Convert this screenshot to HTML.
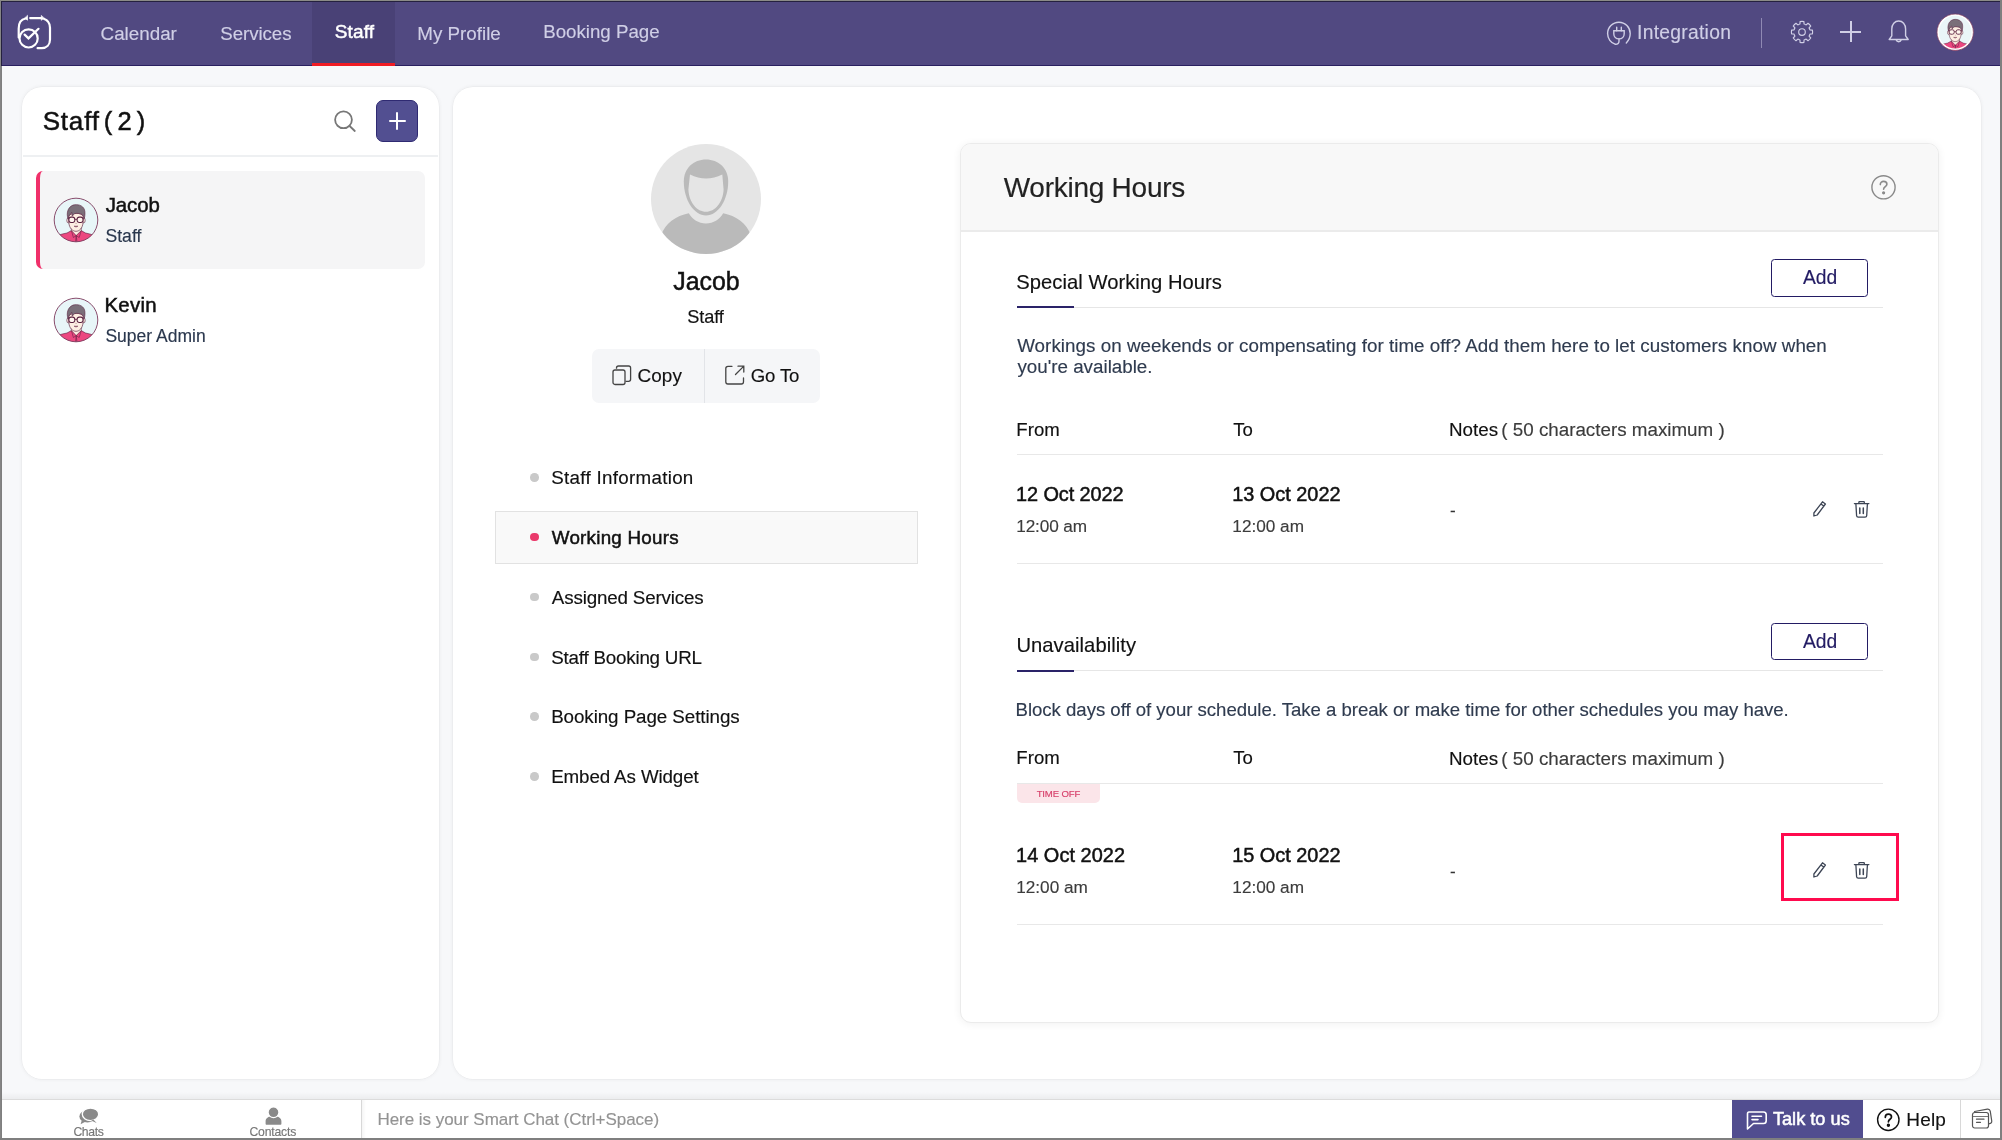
<!DOCTYPE html>
<html><head><meta charset="utf-8"><title>Staff - Working Hours</title>
<style>
*{box-sizing:border-box;margin:0;padding:0}
html,body{width:2002px;height:1140px;overflow:hidden;background:#f7f8fa;font-family:"Liberation Sans", Arial, sans-serif;}
.a{position:absolute}
.t{position:absolute;white-space:nowrap;line-height:1;font-family:"Liberation Sans", Arial, sans-serif;}
svg{position:absolute;overflow:visible}
</style></head><body>
<!-- header -->
<div class="a" style="left:0;top:0;width:2002px;height:66px;background:#514981"></div>
<div class="a" style="left:312px;top:2px;width:83px;height:61px;background:#494176"></div>
<div class="a" style="left:312px;top:63px;width:83px;height:3px;background:#f01c24"></div>
<div class="a" style="left:0;top:65px;width:312px;height:1px;background:#2a2060"></div>
<div class="a" style="left:395px;top:65px;width:1607px;height:1px;background:#2a2060"></div>
<!-- logo -->
<svg style="left:0;top:0" width="60" height="60" viewBox="0 0 60 60" fill="none" stroke="#fff" stroke-width="2.2" stroke-linecap="round">
  <path d="M25.6 18.5 C21.4 19.2 18.7 23 18.7 28.5 L18.7 37.5"/>
  <path d="M27.5 15.7 L27.5 20.2 L24.9 18.3 Z" fill="#fff" stroke-width="0.7" stroke-linejoin="round"/>
  <path d="M30.2 18.1 L41 18.1"/>
  <path d="M41.3 15.8 L41.3 20.3 L43.9 18.2 Z" fill="#fff" stroke-width="0.7" stroke-linejoin="round"/>
  <path d="M43.8 18.8 C47.8 20.2 50 23.6 50 27.8 L50 39.5 C50 44.8 46.6 48.2 41.8 48.2 L37.6 48.2"/>
  <circle cx="28.6" cy="38.4" r="9.1"/>
  <path d="M24.6 34.6 L28.5 38.4 L38.5 28.8"/>
</svg>
<!-- integration icon -->
<svg style="left:1606px;top:20.7px" width="26" height="26" viewBox="0 0 26 26" fill="none" stroke="#d0cfe6" stroke-width="1.4" stroke-linecap="round">
  <path d="M9.5 23.4 C4.8 22 1.6 17.6 1.6 12.6 A11.3 11.3 0 0 1 24.2 12.6 C24.2 16.2 22.8 19.5 20.3 21.9"/>
  <path d="M7.8 9.8 L18.2 9.8 L18.2 12.8 C18.2 15.8 16 17.9 13 17.9 C10 17.9 7.8 15.8 7.8 12.8 Z"/>
  <path d="M10.7 9.8 L10.7 6.2 M15.3 9.8 L15.3 6.2 M13 17.9 L13 20.2 C13 22 11.5 23.2 9.5 23.4"/>
</svg>
<div class="a" style="left:1761px;top:18px;width:1px;height:30px;background:rgba(220,216,240,0.45)"></div>
<!-- gear -->
<svg style="left:1789.5px;top:20.2px" width="24" height="24" viewBox="0 0 24 24" fill="none" stroke="#d0cfe6" stroke-width="1.15" stroke-linejoin="round">
  <path d="M9.95 4.06 L10.07 1.58 A10.6 10.6 0 0 1 13.93 1.58 L14.05 4.06 A8.2 8.2 0 0 1 16.16 4.93 L18.00 3.26 A10.6 10.6 0 0 1 20.74 6.00 L19.07 7.84 A8.2 8.2 0 0 1 19.94 9.95 L22.42 10.07 A10.6 10.6 0 0 1 22.42 13.93 L19.94 14.05 A8.2 8.2 0 0 1 19.07 16.16 L20.74 18.00 A10.6 10.6 0 0 1 18.00 20.74 L16.16 19.07 A8.2 8.2 0 0 1 14.05 19.94 L13.93 22.42 A10.6 10.6 0 0 1 10.07 22.42 L9.95 19.94 A8.2 8.2 0 0 1 7.84 19.07 L6.00 20.74 A10.6 10.6 0 0 1 3.26 18.00 L4.93 16.16 A8.2 8.2 0 0 1 4.06 14.05 L1.58 13.93 A10.6 10.6 0 0 1 1.58 10.07 L4.06 9.95 A8.2 8.2 0 0 1 4.93 7.84 L3.26 6.00 A10.6 10.6 0 0 1 6.00 3.26 L7.84 4.93 A8.2 8.2 0 0 1 9.95 4.06 Z"/>
  <circle cx="12" cy="12" r="3.3"/>
</svg>
<!-- plus -->
<div class="a" style="left:1849.5px;top:21px;width:2px;height:21px;background:#d0cfe6"></div>
<div class="a" style="left:1840px;top:30.5px;width:21px;height:2px;background:#d0cfe6"></div>
<!-- bell -->
<svg style="left:1887px;top:19px" width="24" height="26" viewBox="0 0 24 26" fill="none" stroke="#d0cfe6" stroke-width="1.4" stroke-linejoin="round">
  <path d="M2.2 20.5 L4.8 16.8 L4.8 10 C4.8 5.2 7.8 2 11.7 2 C15.6 2 18.6 5.2 18.6 10 L18.6 16.8 L21.2 20.5 Z"/>
  <path d="M9.2 20.8 A2.6 2.6 0 0 0 14.2 20.8"/>
</svg>
<!-- header avatar -->
<svg style="left:1935.80px;top:13.00px" width="38.41" height="38.41" viewBox="-23 -23 46 46">
  <defs><clipPath id="cha"><circle cx="0" cy="0" r="21.8"/></clipPath></defs>
  <circle cx="0" cy="0" r="21.8" fill="#eaf6f8"/>
  <g clip-path="url(#cha)" stroke="#5a2140" stroke-linejoin="round">
    <path d="M-24 24 L-24 18 C-20 15.6 -15 14.2 -9 13 L-4.6 10.6 L5.2 10.6 L9.5 13 C15 14.2 20 15.6 24 18 L24 24 Z" fill="#ec4880" stroke-width="0.6"/>
    <path d="M-4.6 7 L-4.6 10.6 L0.2 15.6 L5.2 10.6 L5.2 7 Z" fill="#fdeee2" stroke-width="0.6"/>
    <path d="M-4.6 10.6 L-2.6 17.5 L0.2 15.6 M5.2 10.6 L3.2 17.5 L0.2 15.6 M0.2 15.6 L-0.6 24 M0.2 15.6 L1.2 24" fill="none" stroke-width="0.55"/>
    <ellipse cx="-7.7" cy="0.4" rx="1.5" ry="2.5" fill="#fdeee2" stroke-width="0.6"/>
    <ellipse cx="7.7" cy="0.4" rx="1.5" ry="2.5" fill="#fdeee2" stroke-width="0.6"/>
    <path d="M-7.3 -3 C-7.4 -8 7.2 -8 7.1 -3 L7 3 C6.5 8 3.5 11.3 0 11.3 C-3.5 11.3 -6.7 8 -7.1 3 Z" fill="#fdeee2" stroke-width="0.65"/>
    <path d="M-8.1 -1.5 C-9.6 -6.5 -8.6 -12.6 -3 -14.9 C1.5 -16.2 6.5 -14.8 8.3 -10.8 C9.4 -8 9 -4.3 8.3 -1.5 L7.1 -4.8 C4.8 -6.6 1.6 -7 -1.4 -6.4 L-3.8 -3.8 L-4.3 -7.6 L-6.8 -4.4 Z" fill="#7a6f79" stroke-width="0.6"/>
    <rect x="-7.1" y="-2.9" width="5.9" height="5.3" rx="2.1" fill="#fff7ee" stroke-width="1.05"/>
    <rect x="1.1" y="-2.9" width="5.9" height="5.3" rx="2.1" fill="#fff7ee" stroke-width="1.05"/>
    <path d="M-1.3 -0.6 L1.1 -0.6 M-7.1 -0.8 L-7.9 -1.2 M6.9 -0.8 L7.7 -1.2" stroke-width="0.8" fill="none"/>
    <path d="M-0.4 3.4 Q0 4 0.5 3.4" fill="none" stroke-width="0.5"/>
    <path d="M-1.9 6.2 Q0 7.8 1.9 6.2 Z" fill="#e9a0a8" stroke-width="0.5"/>
  </g>
  <circle cx="0" cy="0" r="20.6" fill="none" stroke="#fff" stroke-width="2"/><circle cx="0" cy="0" r="21.8" fill="none" stroke="#7d3a5c" stroke-width="0.9"/>
</svg>
<!-- frame -->
<div class="a" style="left:0;top:0;width:2002px;height:1px;background:#8b8b87"></div>
<div class="a" style="left:1px;top:1px;width:1999px;height:1px;background:#25213f"></div>
<div class="a" style="left:0;top:0;width:1px;height:1140px;background:#858585"></div>
<div class="a" style="left:1px;top:1px;width:1px;height:65px;background:#25213f"></div>
<div class="a" style="left:1px;top:66px;width:1px;height:1074px;background:#7f7f7f"></div>
<div class="a" style="left:2000px;top:0;width:2px;height:1140px;background:#7f7f7f"></div>
<div class="a" style="left:0;top:1138px;width:2002px;height:2px;background:#7f7f7f"></div>

<!-- left panel -->
<div class="a" style="left:22px;top:87px;width:417px;height:992px;background:#fff;border-radius:20px;box-shadow:0 0 0 0.5px rgba(0,0,0,0.03),0 0 4px rgba(0,0,0,0.07)"></div>
<div class="a" style="left:23px;top:155px;width:415px;height:2px;background:#eef0f2"></div>
<svg style="left:333px;top:109px" width="24" height="24" viewBox="0 0 24 24" fill="none" stroke="#777" stroke-width="1.8" stroke-linecap="round">
  <circle cx="10.5" cy="10.8" r="8.4"/><path d="M16.6 17 L21.8 22"/>
</svg>
<div class="a" style="left:376px;top:100px;width:42px;height:42px;background:#524f91;border:1.5px solid #2f2a72;border-radius:7px"></div>
<div class="a" style="left:395.7px;top:112px;width:2.6px;height:18px;background:#fff;border-radius:1px"></div>
<div class="a" style="left:388.5px;top:119.7px;width:17px;height:2.6px;background:#fff;border-radius:1px"></div>
<div class="a" style="left:36px;top:171px;width:389px;height:98px;background:#f5f5f6;border-radius:7px;border-left:4.5px solid #f0306a"></div>
<!-- avatars small -->
<svg style="left:53.10px;top:197.10px" width="46.00" height="46.00" viewBox="-23 -23 46 46">
  <defs><clipPath id="ca1"><circle cx="0" cy="0" r="21.8"/></clipPath></defs>
  <circle cx="0" cy="0" r="21.8" fill="#e8f6f8"/>
  <g clip-path="url(#ca1)" stroke="#5a2140" stroke-linejoin="round">
    <path d="M-24 24 L-24 18 C-20 15.6 -15 14.2 -9 13 L-4.6 10.6 L5.2 10.6 L9.5 13 C15 14.2 20 15.6 24 18 L24 24 Z" fill="#ec4880" stroke-width="0.6"/>
    <path d="M-4.6 7 L-4.6 10.6 L0.2 15.6 L5.2 10.6 L5.2 7 Z" fill="#fdeee2" stroke-width="0.6"/>
    <path d="M-4.6 10.6 L-2.6 17.5 L0.2 15.6 M5.2 10.6 L3.2 17.5 L0.2 15.6 M0.2 15.6 L-0.6 24 M0.2 15.6 L1.2 24" fill="none" stroke-width="0.55"/>
    <ellipse cx="-7.7" cy="0.4" rx="1.5" ry="2.5" fill="#fdeee2" stroke-width="0.6"/>
    <ellipse cx="7.7" cy="0.4" rx="1.5" ry="2.5" fill="#fdeee2" stroke-width="0.6"/>
    <path d="M-7.3 -3 C-7.4 -8 7.2 -8 7.1 -3 L7 3 C6.5 8 3.5 11.3 0 11.3 C-3.5 11.3 -6.7 8 -7.1 3 Z" fill="#fdeee2" stroke-width="0.65"/>
    <path d="M-8.1 -1.5 C-9.6 -6.5 -8.6 -12.6 -3 -14.9 C1.5 -16.2 6.5 -14.8 8.3 -10.8 C9.4 -8 9 -4.3 8.3 -1.5 L7.1 -4.8 C4.8 -6.6 1.6 -7 -1.4 -6.4 L-3.8 -3.8 L-4.3 -7.6 L-6.8 -4.4 Z" fill="#7a6f79" stroke-width="0.6"/>
    <rect x="-7.1" y="-2.9" width="5.9" height="5.3" rx="2.1" fill="#fff7ee" stroke-width="1.05"/>
    <rect x="1.1" y="-2.9" width="5.9" height="5.3" rx="2.1" fill="#fff7ee" stroke-width="1.05"/>
    <path d="M-1.3 -0.6 L1.1 -0.6 M-7.1 -0.8 L-7.9 -1.2 M6.9 -0.8 L7.7 -1.2" stroke-width="0.8" fill="none"/>
    <path d="M-0.4 3.4 Q0 4 0.5 3.4" fill="none" stroke-width="0.5"/>
    <path d="M-1.9 6.2 Q0 7.8 1.9 6.2 Z" fill="#e9a0a8" stroke-width="0.5"/>
  </g>
  <circle cx="0" cy="0" r="21.8" fill="none" stroke="#7d3a5c" stroke-width="0.9"/>
</svg>
<svg style="left:53.10px;top:296.80px" width="46.00" height="46.00" viewBox="-23 -23 46 46">
  <defs><clipPath id="ca2"><circle cx="0" cy="0" r="21.8"/></clipPath></defs>
  <circle cx="0" cy="0" r="21.8" fill="#e8f6f8"/>
  <g clip-path="url(#ca2)" stroke="#5a2140" stroke-linejoin="round">
    <path d="M-24 24 L-24 18 C-20 15.6 -15 14.2 -9 13 L-4.6 10.6 L5.2 10.6 L9.5 13 C15 14.2 20 15.6 24 18 L24 24 Z" fill="#ec4880" stroke-width="0.6"/>
    <path d="M-4.6 7 L-4.6 10.6 L0.2 15.6 L5.2 10.6 L5.2 7 Z" fill="#fdeee2" stroke-width="0.6"/>
    <path d="M-4.6 10.6 L-2.6 17.5 L0.2 15.6 M5.2 10.6 L3.2 17.5 L0.2 15.6 M0.2 15.6 L-0.6 24 M0.2 15.6 L1.2 24" fill="none" stroke-width="0.55"/>
    <ellipse cx="-7.7" cy="0.4" rx="1.5" ry="2.5" fill="#fdeee2" stroke-width="0.6"/>
    <ellipse cx="7.7" cy="0.4" rx="1.5" ry="2.5" fill="#fdeee2" stroke-width="0.6"/>
    <path d="M-7.3 -3 C-7.4 -8 7.2 -8 7.1 -3 L7 3 C6.5 8 3.5 11.3 0 11.3 C-3.5 11.3 -6.7 8 -7.1 3 Z" fill="#fdeee2" stroke-width="0.65"/>
    <path d="M-8.1 -1.5 C-9.6 -6.5 -8.6 -12.6 -3 -14.9 C1.5 -16.2 6.5 -14.8 8.3 -10.8 C9.4 -8 9 -4.3 8.3 -1.5 L7.1 -4.8 C4.8 -6.6 1.6 -7 -1.4 -6.4 L-3.8 -3.8 L-4.3 -7.6 L-6.8 -4.4 Z" fill="#7a6f79" stroke-width="0.6"/>
    <rect x="-7.1" y="-2.9" width="5.9" height="5.3" rx="2.1" fill="#fff7ee" stroke-width="1.05"/>
    <rect x="1.1" y="-2.9" width="5.9" height="5.3" rx="2.1" fill="#fff7ee" stroke-width="1.05"/>
    <path d="M-1.3 -0.6 L1.1 -0.6 M-7.1 -0.8 L-7.9 -1.2 M6.9 -0.8 L7.7 -1.2" stroke-width="0.8" fill="none"/>
    <path d="M-0.4 3.4 Q0 4 0.5 3.4" fill="none" stroke-width="0.5"/>
    <path d="M-1.9 6.2 Q0 7.8 1.9 6.2 Z" fill="#e9a0a8" stroke-width="0.5"/>
  </g>
  <circle cx="0" cy="0" r="21.8" fill="none" stroke="#7d3a5c" stroke-width="0.9"/>
</svg>

<!-- main panel -->
<div class="a" style="left:453px;top:87px;width:1528px;height:992px;background:#fff;border-radius:20px;box-shadow:0 0 0 0.5px rgba(0,0,0,0.03),0 0 4px rgba(0,0,0,0.07)"></div>
<!-- big avatar -->
<svg style="left:651px;top:143.5px" width="110" height="110" viewBox="0 0 110 110">
  <defs><clipPath id="cd"><circle cx="55" cy="55" r="55"/></clipPath></defs>
  <circle cx="55" cy="55" r="55" fill="#e5e5e5"/>
  <g clip-path="url(#cd)" fill="#bababa">
    <path d="M10 110 L10 92 C14 79 25 72 37.8 69.3 C41.5 75.8 47.5 79.4 55 79.4 C62.5 79.4 68.5 75.8 72.2 69.3 C85 72 96 79 100 92 L100 110 Z"/>
    <path d="M55 15.6 C67.5 15.6 77.2 24.5 77.2 37.5 C77.2 56 67 71.5 55 71.5 C43 71.5 32.8 56 32.8 37.5 C32.8 24.5 42.5 15.6 55 15.6 Z"/>
    <path d="M39 30.4 Q55 38.5 71.3 30.4 L72.6 45.5 C72 58.5 64 67.8 55 67.8 C46 67.8 38 58.5 37.4 45.5 Z" fill="#e5e5e5"/>
  </g>
</svg>
<!-- copy/goto -->
<div class="a" style="left:592px;top:348.5px;width:228px;height:54px;background:#f5f6f8;border-radius:7px"></div>
<div class="a" style="left:703.5px;top:348.5px;width:1px;height:54px;background:#e2e4e8"></div>
<svg style="left:611px;top:364px" width="22" height="22" viewBox="0 0 22 22" fill="none" stroke="#444" stroke-width="1.3">
  <rect x="2" y="6" width="12" height="14.5" rx="2"/>
  <path d="M5.5 4.8 L5.5 4 C5.5 2.8 6.3 2 7.5 2 L17.6 2 C18.8 2 19.6 2.8 19.6 4 L19.6 15.3 C19.6 16.5 18.8 17.3 17.6 17.3 L14.5 17.3"/>
</svg>
<svg style="left:724px;top:364px" width="22" height="22" viewBox="0 0 22 22" fill="none" stroke="#444" stroke-width="1.3" stroke-linecap="round">
  <path d="M8 2.3 L4 2.3 C2.6 2.3 1.8 3.1 1.8 4.5 L1.8 17.8 C1.8 19.2 2.6 20 4 20 L17.3 20 C18.7 20 19.5 19.2 19.5 17.8 L19.5 14"/>
  <path d="M11.5 10.5 L19.6 2.4 M14 2.2 L19.8 2.2 L19.8 8"/>
</svg>
<!-- nav list -->
<div class="a" style="left:494.5px;top:511px;width:423.5px;height:52.5px;background:#f9f9f9;border:1.3px solid #e2e2e2"></div>
<div class="a" style="left:530.2px;top:473.3px;width:8.6px;height:8.6px;border-radius:50%;background:#c9c9c9"></div>
<div class="a" style="left:530.2px;top:532.9px;width:8.6px;height:8.6px;border-radius:50%;background:#ea3a6b"></div>
<div class="a" style="left:530.2px;top:592.7px;width:8.6px;height:8.6px;border-radius:50%;background:#c9c9c9"></div>
<div class="a" style="left:530.2px;top:652.5px;width:8.6px;height:8.6px;border-radius:50%;background:#c9c9c9"></div>
<div class="a" style="left:530.2px;top:712.3px;width:8.6px;height:8.6px;border-radius:50%;background:#c9c9c9"></div>
<div class="a" style="left:530.2px;top:772.1px;width:8.6px;height:8.6px;border-radius:50%;background:#c9c9c9"></div>

<!-- card -->
<div class="a" style="left:960px;top:143px;width:979px;height:880px;background:#fff;border:1px solid #ebebeb;border-radius:11px;overflow:hidden;box-shadow:0 1px 8px rgba(0,0,0,0.06)">
  <div class="a" style="left:0;top:0;width:977px;height:88px;background:#f8f8f8;border-bottom:2px solid #ebebeb"></div>
</div>
<svg style="left:1871px;top:175px" width="25" height="25" viewBox="0 0 25 25" fill="none" stroke="#8a8a8a" stroke-width="1.4" stroke-linecap="round">
  <circle cx="12.5" cy="12.3" r="11.6"/>
  <path d="M9.3 9.6 C9.3 7.6 10.7 6.4 12.6 6.4 C14.5 6.4 15.9 7.6 15.9 9.3 C15.9 11.6 12.6 11.8 12.6 14.3" stroke-width="1.6"/>
  <circle cx="12.6" cy="17.8" r="0.9" fill="#8a8a8a"/>
</svg>
<!-- section 1 -->
<div class="a" style="left:1016.8px;top:306.5px;width:866px;height:1px;background:#e6e6e6"></div>
<div class="a" style="left:1016.6px;top:306.4px;width:57.4px;height:2px;background:#2a2368"></div>
<div class="a" style="left:1771px;top:259.3px;width:97px;height:37.5px;border:1.6px solid #231c64;border-radius:3.5px;background:#fff"></div>
<div class="a" style="left:1016.8px;top:454px;width:866px;height:1px;background:#e8e8e8"></div>
<div class="a" style="left:1016.8px;top:563px;width:866px;height:1px;background:#e8e8e8"></div>
<!-- section 2 -->
<div class="a" style="left:1016.8px;top:670.2px;width:866px;height:1px;background:#e6e6e6"></div>
<div class="a" style="left:1016.6px;top:670.2px;width:57.4px;height:2px;background:#2a2368"></div>
<div class="a" style="left:1771px;top:622.8px;width:97px;height:37.5px;border:1.6px solid #231c64;border-radius:3.5px;background:#fff"></div>
<div class="a" style="left:1016.8px;top:783px;width:866px;height:1px;background:#e8e8e8"></div>
<div class="a" style="left:1017px;top:784px;width:83px;height:19px;background:#fbe5e9;border-radius:0 0 5px 5px"></div>
<div class="a" style="left:1016.8px;top:924.2px;width:866px;height:1px;background:#e8e8e8"></div>
<div class="a" style="left:1780.8px;top:833.2px;width:118.6px;height:67.7px;border:3.3px solid #ff0a4e"></div>
<!-- edit/delete icons -->
<svg style="left:1810px;top:499px" width="20" height="20" viewBox="0 0 20 20" fill="none" stroke="#3d4555" stroke-width="1.3" stroke-linejoin="round">
  <path d="M3.9 17.0 L3.9 14.0 L12.5 2.8 L15.4 5.0 L7.2 16.0 Z M10.9 4.9 L13.8 7.1"/>
</svg>
<svg style="left:1852px;top:499px" width="20" height="20" viewBox="0 0 20 20" fill="none" stroke="#3d4555" stroke-width="1.3" stroke-linecap="round" stroke-linejoin="round">
  <path d="M2.4 4.6 L16.9 4.6 M6.9 4.3 L6.9 3.1 C6.9 2.8 7.1 2.6 7.5 2.6 L11.7 2.6 C12.1 2.6 12.3 2.8 12.3 3.1 L12.3 4.3"/>
  <path d="M3.9 5 L4.6 16.8 C4.7 17.8 5.2 18.2 6.2 18.2 L13.1 18.2 C14.1 18.2 14.6 17.8 14.7 16.8 L15.4 5"/>
  <path d="M7.8 9.1 L7.8 14.5 M11.3 9.1 L11.3 14.5" stroke-width="1.5"/>
</svg>
<svg style="left:1810px;top:859.5px" width="20" height="20" viewBox="0 0 20 20" fill="none" stroke="#3d4555" stroke-width="1.3" stroke-linejoin="round">
  <path d="M3.9 17.0 L3.9 14.0 L12.5 2.8 L15.4 5.0 L7.2 16.0 Z M10.9 4.9 L13.8 7.1"/>
</svg>
<svg style="left:1852px;top:859.5px" width="20" height="20" viewBox="0 0 20 20" fill="none" stroke="#3d4555" stroke-width="1.3" stroke-linecap="round" stroke-linejoin="round">
  <path d="M2.4 4.6 L16.9 4.6 M6.9 4.3 L6.9 3.1 C6.9 2.8 7.1 2.6 7.5 2.6 L11.7 2.6 C12.1 2.6 12.3 2.8 12.3 3.1 L12.3 4.3"/>
  <path d="M3.9 5 L4.6 16.8 C4.7 17.8 5.2 18.2 6.2 18.2 L13.1 18.2 C14.1 18.2 14.6 17.8 14.7 16.8 L15.4 5"/>
  <path d="M7.8 9.1 L7.8 14.5 M11.3 9.1 L11.3 14.5" stroke-width="1.5"/>
</svg>

<!-- bottom bar -->
<div class="a" style="left:2px;top:1092px;width:1998px;height:8px;background:linear-gradient(to bottom,rgba(0,0,0,0),rgba(0,0,0,0.05))"></div>
<div class="a" style="left:2px;top:1099px;width:1998px;height:1px;background:#dcdcdc"></div>
<div class="a" style="left:2px;top:1100px;width:1998px;height:38px;background:#fff"></div>
<div class="a" style="left:361px;top:1100px;width:1px;height:38px;background:#d8d8d8"></div>
<div class="a" style="left:362px;top:1100px;width:4px;height:38px;background:linear-gradient(to right,rgba(0,0,0,0.04),rgba(0,0,0,0))"></div>
<svg style="left:60px;top:1100px" width="240" height="40" viewBox="60 1100 240 40">
  <ellipse cx="87.4" cy="1116.4" rx="8" ry="6.1" fill="#8a8a8a"/>
  <path d="M82 1119.5 L80.6 1124.2 L86.2 1121.2 Z" fill="#8a8a8a"/>
  <ellipse cx="90.5" cy="1114.3" rx="8.2" ry="6.3" fill="#8a8a8a" stroke="#fff" stroke-width="1.3"/>
  <path d="M93.6 1119.8 L96.6 1123 L91 1120.6 Z" fill="#8a8a8a"/>
  <path d="M265.6 1124.8 L265.6 1121.2 C265.6 1118 268.8 1116 273.5 1116 C278.2 1116 281.4 1118 281.4 1121.2 L281.4 1123.8 C281.4 1124.5 281 1124.8 280.3 1124.8 L266.6 1124.8 C266 1124.8 265.6 1124.5 265.6 1123.8 Z" fill="#8a8a8a"/>
  <circle cx="273.5" cy="1112.3" r="5.4" fill="#8a8a8a" stroke="#fff" stroke-width="1.2"/>
</svg>
<div class="a" style="left:1732px;top:1100px;width:131px;height:38px;background:#514d8f"></div>
<svg style="left:1745px;top:1110px" width="23" height="21" viewBox="0 0 23 21" fill="none" stroke="#fff" stroke-width="1.6" stroke-linejoin="round" stroke-linecap="round">
  <path d="M4 2 L18.5 2 C20.3 2 21.2 2.9 21.2 4.7 L21.2 10.8 C21.2 12.6 20.3 13.5 18.5 13.5 L8.5 13.5 L2.5 19 L2.5 4 C2.5 2.8 3 2 4 2 Z"/>
  <path d="M7 6.3 L16.5 6.3 M7 9.6 L13 9.6"/>
</svg>
<svg style="left:1876px;top:1108px" width="24" height="24" viewBox="0 0 24 24" fill="none" stroke="#111" stroke-width="1.4" stroke-linecap="round">
  <circle cx="12.3" cy="11.8" r="10.7"/>
  <path d="M9.3 9.3 C9.3 7.3 10.6 6.2 12.4 6.2 C14.2 6.2 15.5 7.3 15.5 9 C15.5 11.2 12.4 11.4 12.4 13.8" stroke-width="1.7"/>
  <circle cx="12.4" cy="17.2" r="1" fill="#111"/>
</svg>
<div class="a" style="left:1960px;top:1100px;width:1px;height:38px;background:#d8d8d8"></div>
<svg style="left:1970px;top:1108px" width="24" height="22" viewBox="0 0 24 22" fill="#fff" stroke="#555" stroke-width="1.2" stroke-linejoin="round">
  <path d="M5 3 L18 1.5 C19.5 1.4 20.5 2.3 20.7 3.8 L21.5 13.5 C21.6 15 20.8 16 19.3 16.1 L7 17 Z" transform="rotate(-4 12 10)"/>
  <rect x="2.5" y="4.5" width="16" height="15.5" rx="2.2"/>
  <path d="M6.5 11.2 L14 11.2 M6.5 14.3 L10.5 14.3" stroke-linecap="round"/>
  <path d="M2.5 8.5 L18.5 8.5" stroke-width="0.8"/>
</svg>
<div class="a" style="left:0;top:0;width:2002px;height:1140px;will-change:transform">
<div class="t" style="left:100.62px;top:25.00px;font-size:18.80px;color:#d0cfe6;-webkit-text-stroke:0.15px currentColor;">Calendar</div>
<div class="t" style="left:220.22px;top:25.01px;font-size:18.70px;color:#d0cfe6;letter-spacing:-0.048px;-webkit-text-stroke:0.15px currentColor;">Services</div>
<div class="t" style="left:334.81px;top:22.00px;font-size:19.00px;color:#ffffff;letter-spacing:0.149px;-webkit-text-stroke:0.5px currentColor;">Staff</div>
<div class="t" style="left:417.33px;top:25.00px;font-size:18.80px;color:#d0cfe6;-webkit-text-stroke:0.15px currentColor;">My Profile</div>
<div class="t" style="left:543.24px;top:23.00px;font-size:18.70px;color:#d0cfe6;-webkit-text-stroke:0.15px currentColor;">Booking Page</div>
<div class="t" style="left:1637.09px;top:23.01px;font-size:19.30px;color:#d0cfe6;letter-spacing:0.269px;-webkit-text-stroke:0.15px currentColor;">Integration</div>
<div class="t" style="left:42.69px;top:108.01px;font-size:26.00px;color:#111;letter-spacing:0.805px;-webkit-text-stroke:0.5px currentColor;">Staff</div>
<div class="t" style="left:103.80px;top:109.01px;font-size:25.50px;color:#111;letter-spacing:-0.955px;-webkit-text-stroke:0.5px currentColor;">( 2 )</div>
<div class="t" style="left:105.68px;top:195.01px;font-size:20.40px;color:#111;letter-spacing:-0.073px;-webkit-text-stroke:0.5px currentColor;">Jacob</div>
<div class="t" style="left:105.45px;top:228.01px;font-size:17.60px;color:#2a374d;letter-spacing:0.028px;-webkit-text-stroke:0.15px currentColor;">Staff</div>
<div class="t" style="left:104.41px;top:295.01px;font-size:20.40px;color:#111;letter-spacing:0.302px;-webkit-text-stroke:0.5px currentColor;">Kevin</div>
<div class="t" style="left:105.45px;top:328.00px;font-size:17.50px;color:#2a374d;-webkit-text-stroke:0.15px currentColor;">Super Admin</div>
<div class="t" style="left:673.31px;top:269.00px;font-size:24.90px;color:#111;-webkit-text-stroke:0.5px currentColor;">Jacob</div>
<div class="t" style="left:687.23px;top:308.02px;font-size:18.20px;color:#111;letter-spacing:-0.124px;-webkit-text-stroke:0.15px currentColor;">Staff</div>
<div class="t" style="left:637.41px;top:367.00px;font-size:18.90px;color:#111;letter-spacing:0.121px;-webkit-text-stroke:0.15px currentColor;">Copy</div>
<div class="t" style="left:750.73px;top:367.01px;font-size:18.60px;color:#111;letter-spacing:-0.150px;-webkit-text-stroke:0.15px currentColor;">Go To</div>
<div class="t" style="left:551.21px;top:469.01px;font-size:18.80px;color:#111;letter-spacing:0.291px;-webkit-text-stroke:0.15px currentColor;">Staff Information</div>
<div class="t" style="left:551.80px;top:529.00px;font-size:18.80px;color:#111;letter-spacing:0.242px;-webkit-text-stroke:0.5px currentColor;">Working Hours</div>
<div class="t" style="left:551.80px;top:589.00px;font-size:18.80px;color:#111;letter-spacing:-0.160px;-webkit-text-stroke:0.15px currentColor;">Assigned Services</div>
<div class="t" style="left:551.21px;top:649.00px;font-size:18.80px;color:#111;letter-spacing:-0.210px;-webkit-text-stroke:0.15px currentColor;">Staff Booking URL</div>
<div class="t" style="left:551.13px;top:708.01px;font-size:18.80px;color:#111;letter-spacing:-0.073px;-webkit-text-stroke:0.15px currentColor;">Booking Page Settings</div>
<div class="t" style="left:551.13px;top:768.01px;font-size:18.80px;color:#111;letter-spacing:-0.119px;-webkit-text-stroke:0.15px currentColor;">Embed As Widget</div>
<div class="t" style="left:1003.70px;top:174.00px;font-size:28.00px;color:#222;letter-spacing:-0.256px;-webkit-text-stroke:0.15px currentColor;">Working Hours</div>
<div class="t" style="left:1016.37px;top:272.00px;font-size:20.20px;color:#111;letter-spacing:0.029px;-webkit-text-stroke:0.15px currentColor;">Special Working Hours</div>
<div class="t" style="left:1803.00px;top:268.01px;font-size:19.30px;color:#231c64;letter-spacing:-0.028px;-webkit-text-stroke:0.15px currentColor;">Add</div>
<div class="t" style="left:1017.20px;top:337.01px;font-size:18.80px;color:#2f3b4f;letter-spacing:0.037px;-webkit-text-stroke:0.15px currentColor;">Workings on weekends or compensating for time off? Add them here to let customers know when</div>
<div class="t" style="left:1017.40px;top:358.00px;font-size:18.80px;color:#2f3b4f;-webkit-text-stroke:0.15px currentColor;">you're available.</div>
<div class="t" style="left:1016.35px;top:421.00px;font-size:18.60px;color:#111;-webkit-text-stroke:0.15px currentColor;">From</div>
<div class="t" style="left:1233.21px;top:421.00px;font-size:18.60px;color:#111;-webkit-text-stroke:0.15px currentColor;">To</div>
<div class="t" style="left:1449.03px;top:421.01px;font-size:18.80px;color:#111;letter-spacing:0.036px;-webkit-text-stroke:0.15px currentColor;">Notes</div>
<div class="t" style="left:1501.32px;top:421.01px;font-size:18.80px;color:#3c3c3c;-webkit-text-stroke:0.15px currentColor;">( 50 characters maximum )</div>
<div class="t" style="left:1016.35px;top:749.00px;font-size:18.60px;color:#111;-webkit-text-stroke:0.15px currentColor;">From</div>
<div class="t" style="left:1233.21px;top:749.00px;font-size:18.60px;color:#111;-webkit-text-stroke:0.15px currentColor;">To</div>
<div class="t" style="left:1449.03px;top:750.00px;font-size:18.80px;color:#111;letter-spacing:0.036px;-webkit-text-stroke:0.15px currentColor;">Notes</div>
<div class="t" style="left:1501.32px;top:750.00px;font-size:18.80px;color:#3c3c3c;-webkit-text-stroke:0.15px currentColor;">( 50 characters maximum )</div>
<div class="t" style="left:1016.06px;top:485.01px;font-size:19.90px;color:#111;letter-spacing:-0.087px;-webkit-text-stroke:0.5px currentColor;">12 Oct 2022</div>
<div class="t" style="left:1016.22px;top:518.01px;font-size:17.20px;color:#3c3c3c;letter-spacing:-0.107px;-webkit-text-stroke:0.15px currentColor;">12:00 am</div>
<div class="t" style="left:1232.16px;top:485.01px;font-size:19.90px;color:#111;-webkit-text-stroke:0.5px currentColor;">13 Oct 2022</div>
<div class="t" style="left:1232.33px;top:518.01px;font-size:17.20px;color:#3c3c3c;-webkit-text-stroke:0.15px currentColor;">12:00 am</div>
<div class="t" style="left:1449.97px;top:502.00px;font-size:17.00px;color:#333;-webkit-text-stroke:0.15px currentColor;">-</div>
<div class="t" style="left:1016.44px;top:635.01px;font-size:20.20px;color:#111;letter-spacing:0.050px;-webkit-text-stroke:0.15px currentColor;">Unavailability</div>
<div class="t" style="left:1803.00px;top:632.01px;font-size:19.30px;color:#231c64;letter-spacing:-0.028px;-webkit-text-stroke:0.15px currentColor;">Add</div>
<div class="t" style="left:1015.55px;top:701.00px;font-size:18.60px;color:#2f3b4f;letter-spacing:-0.025px;-webkit-text-stroke:0.15px currentColor;">Block days off of your schedule. Take a break or make time for other schedules you may have.</div>
<div class="t" style="left:1036.65px;top:789.01px;font-size:9.60px;color:#d6406a;letter-spacing:-0.161px;-webkit-text-stroke:0.15px currentColor;">TIME OFF</div>
<div class="t" style="left:1016.06px;top:846.00px;font-size:19.90px;color:#111;letter-spacing:0.053px;-webkit-text-stroke:0.5px currentColor;">14 Oct 2022</div>
<div class="t" style="left:1016.22px;top:879.01px;font-size:17.20px;color:#3c3c3c;-webkit-text-stroke:0.15px currentColor;">12:00 am</div>
<div class="t" style="left:1232.16px;top:846.00px;font-size:19.90px;color:#111;-webkit-text-stroke:0.5px currentColor;">15 Oct 2022</div>
<div class="t" style="left:1232.33px;top:879.01px;font-size:17.20px;color:#3c3c3c;-webkit-text-stroke:0.15px currentColor;">12:00 am</div>
<div class="t" style="left:1449.97px;top:863.00px;font-size:17.00px;color:#333;-webkit-text-stroke:0.15px currentColor;">-</div>
<div class="t" style="left:73.43px;top:1126.01px;font-size:12.20px;color:#777;letter-spacing:-0.354px;-webkit-text-stroke:0.15px currentColor;">Chats</div>
<div class="t" style="left:249.43px;top:1126.01px;font-size:12.20px;color:#777;letter-spacing:-0.170px;-webkit-text-stroke:0.15px currentColor;">Contacts</div>
<div class="t" style="left:377.47px;top:1111.00px;font-size:17.00px;color:#939393;letter-spacing:-0.038px;-webkit-text-stroke:0.15px currentColor;">Here is your Smart Chat (Ctrl+Space)</div>
<div class="t" style="left:1772.92px;top:1110.01px;font-size:18.20px;color:#ffffff;-webkit-text-stroke:0.5px currentColor;">Talk to us</div>
<div class="t" style="left:1906.32px;top:1110.01px;font-size:19.00px;color:#111;letter-spacing:0.159px;-webkit-text-stroke:0.15px currentColor;">Help</div>
</div>
</body></html>
